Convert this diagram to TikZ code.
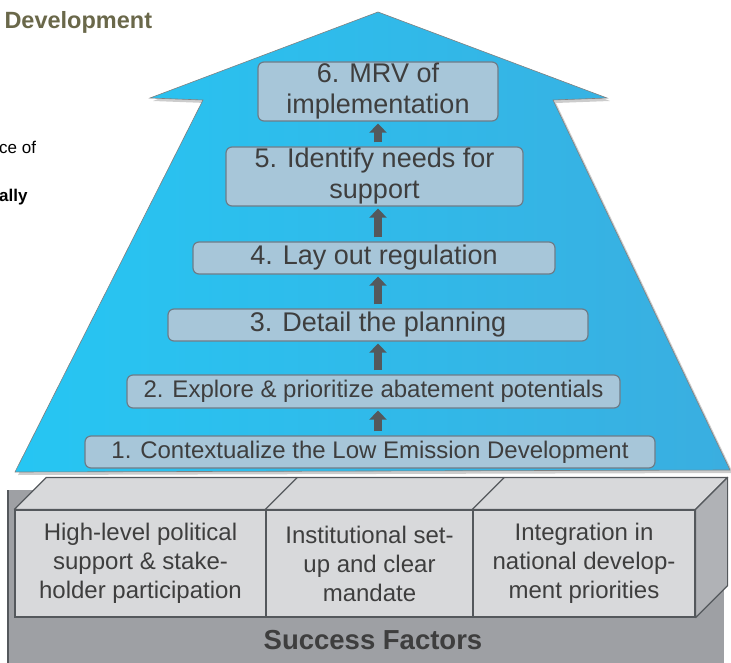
\documentclass[tikz,border=0pt]{standalone}
\usepackage{fontspec}
\setmainfont{Liberation Sans}
\usetikzlibrary{arrows.meta}
\definecolor{arrowblue}{RGB}{38,198,243}
\definecolor{arrowblue2}{RGB}{58,174,224}
\definecolor{stepfill}{RGB}{167,198,217}
\definecolor{stepline}{RGB}{110,124,136}
\definecolor{txtgray}{RGB}{62,62,62}
\definecolor{arrgray}{RGB}{84,88,92}
\definecolor{baseback}{RGB}{158,160,164}
\definecolor{basefront}{RGB}{216,217,219}
\definecolor{baseside}{RGB}{176,178,182}
\definecolor{olivetxt}{RGB}{106,104,74}
\begin{document}
\begin{tikzpicture}[x=1pt,y=-1pt]
      \tikzstyle{STY1} = [draw=stepline, fill=stepfill, rounded corners=6pt, line width=1.2pt, text=txtgray, align=center, inner sep=0pt]
      \tikzstyle{STY2} = [-{Triangle[width=17pt,length=9pt]}, line width=8pt, draw=arrgray, shorten <=4pt, shorten >=2pt]
      \tikzstyle{STY3} = [draw=arrgray, line width=1.2pt, fill=basefront, minimum height=107pt, inner sep=0pt, text=txtgray, align=center, font=\fontsize{24}{29}\selectfont]
      \tikzstyle{STY4} = [draw=arrgray, line width=1.2pt, line join=round]

      \useasboundingbox (0,0) rectangle (731,663);

      %%%%% SIDE TEXT
      \node[anchor=west, text=olivetxt, font=\bfseries\fontsize{23.5}{26}\selectfont] (dev) at (1,22) {Development};
      \node[anchor=west, inner sep=0pt, font=\fontsize{17}{20}\selectfont] (ceof) at (-1,147) {ce of};
      \node[anchor=west, inner sep=0pt, font=\bfseries\fontsize{17}{20}\selectfont] (ally) at (-1,197) {ally};

      %%%%% BASE
      \fill[baseback] (8,490) rectangle (724,670);
      \draw[arrgray, line width=1.2pt] (8,670) -- (8,490);

      \node[STY3, minimum width=251pt](b1) at (140.5,563.5) {High-level political\\support \& stake-\\holder participation};
      \node[STY3, minimum width=207pt](b2) at (369.5,563.5) {Institutional set-\\up and clear\\mandate};
      \node[STY3, minimum width=222pt](b3) at (584,563.5) {Integration in\\national develop-\\ment priorities};

      \filldraw[STY4, fill=basefront] (b1.north west) -- ++(32,-32) -- ([shift={(32,-32)}]b3.north east) -- (b3.north east) -- cycle;
      \filldraw[STY4, fill=baseside] (b3.north east) -- ++(32,-32) -- ([shift={(32,-32)}]b3.south east) -- (b3.south east) -- cycle;
      \draw[STY4] (b2.north west) -- ++(32,-32);
      \draw[STY4] (b3.north west) -- ++(32,-32);

      \node[text=txtgray, font=\bfseries\fontsize{27.5}{30}\selectfont] (sf) at (373,640) {Success Factors};

      %%%%% ARROW
      \fill[gray, opacity=.4] (381,15) -- (610,101) -- (556,103) -- (733,473) -- (18,475) -- (206,103) -- (153,101) -- cycle;
      \shade[left color=arrowblue, right color=arrowblue2, draw=gray, line width=.6pt] (378,12) -- (607,98) -- (553,100) -- (730,470) -- (15,472) -- (203,100) -- (150,98) -- cycle;

      %%%%% STEPS
      \node[STY1, minimum width=570pt, minimum height=32pt, font=\fontsize{24}{28}\selectfont](s1) at (370,452) {1. Contextualize the Low Emission Development};
      \node[STY1, minimum width=493pt, minimum height=33pt, font=\fontsize{24}{28}\selectfont](s2) at (373.5,391.5) {2. Explore \& prioritize abatement potentials};
      \node[STY1, minimum width=420pt, minimum height=32pt, font=\fontsize{27}{31}\selectfont](s3) at (378,325) {3. Detail the planning};
      \node[STY1, minimum width=362pt, minimum height=32pt, font=\fontsize{27}{31}\selectfont](s4) at (374,258) {4. Lay out regulation};
      \node[STY1, minimum width=297pt, minimum height=59pt, font=\fontsize{27}{31}\selectfont](s5) at (374.5,176.5) {5. Identify needs for\\support};
      \node[STY1, minimum width=240pt, minimum height=59pt, font=\fontsize{27}{31}\selectfont](s6) at (378,91.5) {6. MRV of\\implementation};

      %%%%% CONNECTORS
      \draw[STY2] (s1.north -| s6.center) -- (s2.south -| s6.center);
      \draw[STY2] (s2.north -| s6.center) -- (s3.south -| s6.center);
      \draw[STY2] (s3.north -| s6.center) -- (s4.south -| s6.center);
      \draw[STY2] (s4.north -| s6.center) -- (s5.south -| s6.center);
      \draw[STY2] (s5.north -| s6.center) -- (s6.south -| s6.center);
\end{tikzpicture}
\end{document}
